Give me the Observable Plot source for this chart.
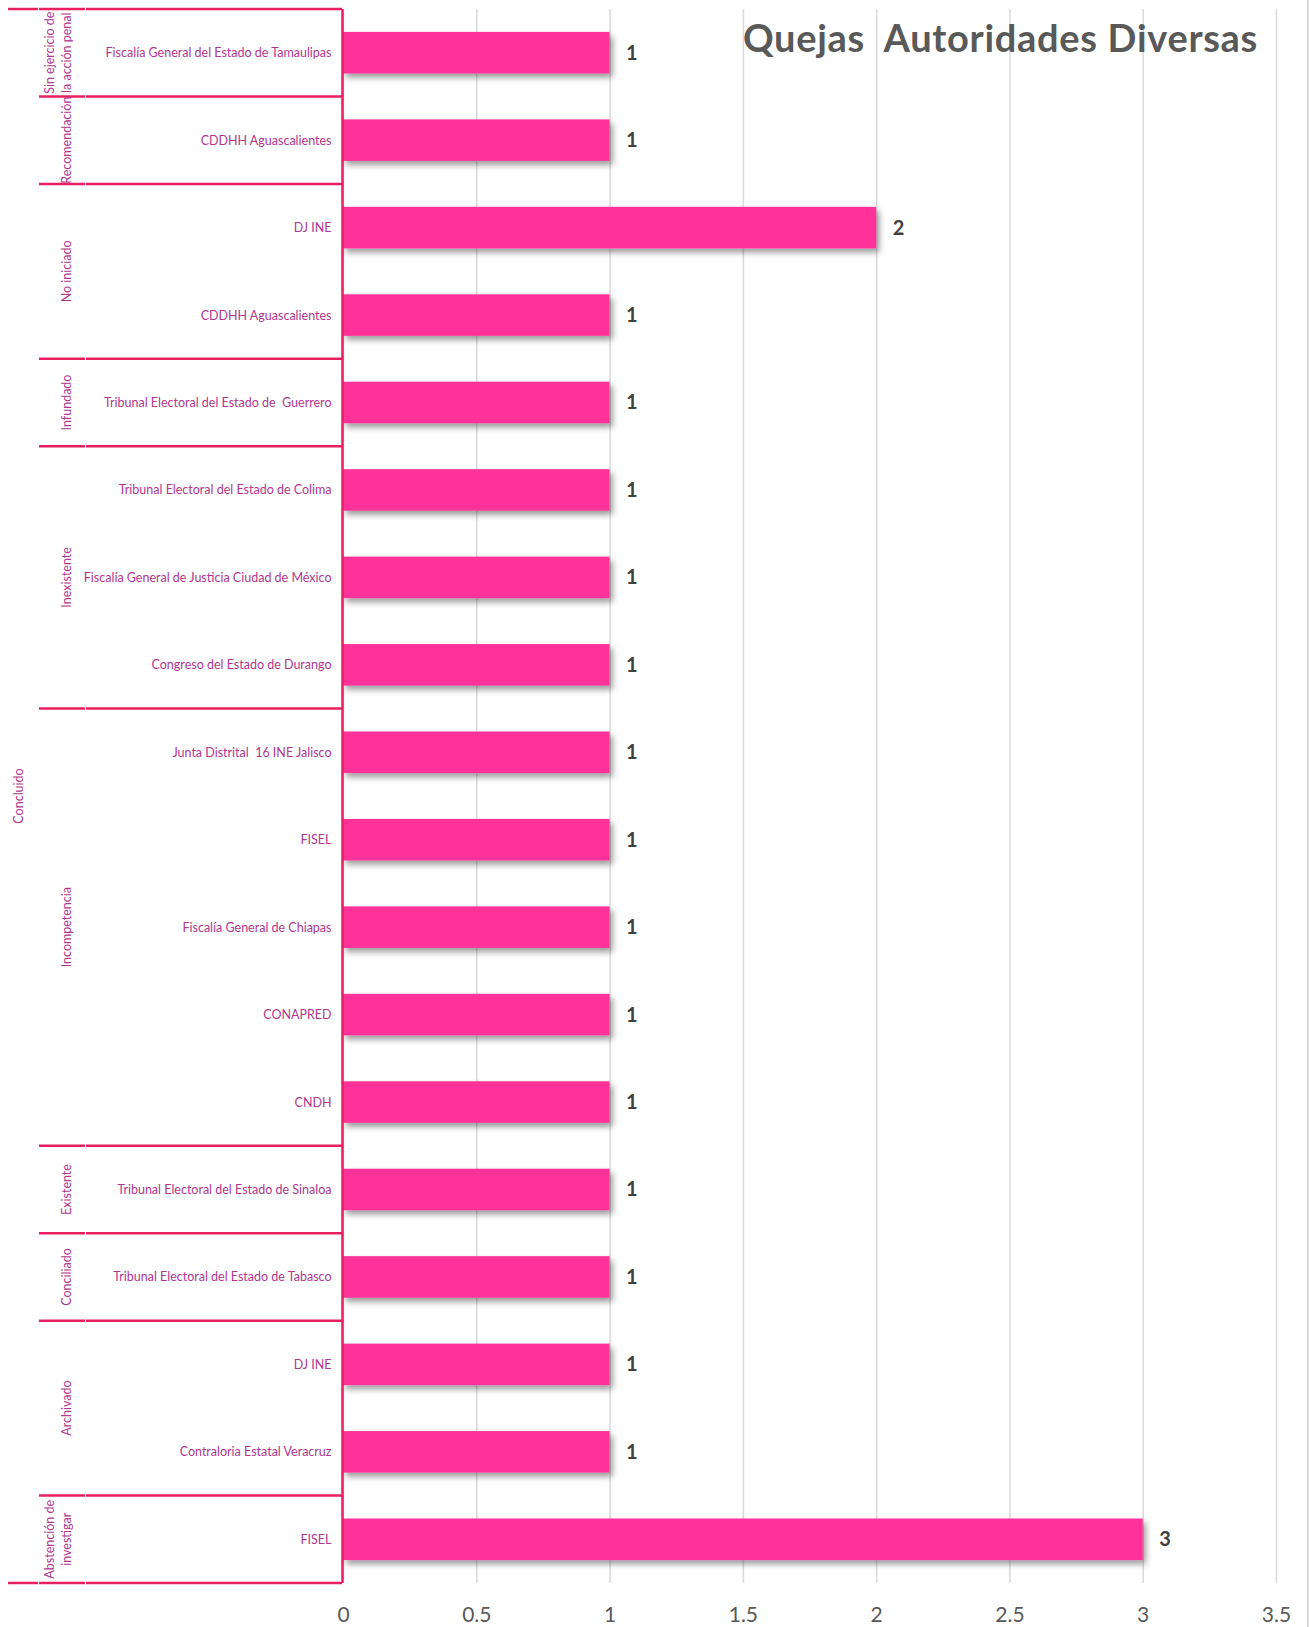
<!DOCTYPE html>
<html><head><meta charset="utf-8">
<script src="https://cdn.jsdelivr.net/npm/d3@7"></script>
<script src="https://cdn.jsdelivr.net/npm/@observablehq/plot@0.6"></script>
<style>
html,body{margin:0;padding:0;background:#fff;}
#wrap{position:relative;width:1309px;height:1627px;overflow:hidden;}
svg text{white-space:pre;}
</style></head><body>
<div id="wrap"></div>
<script>
const title = "Quejas  Autoridades Diversas";
const outerGroup = "Concluido";
const groups = ["Sin ejercicio de\nla acción penal", "Recomendación", "No iniciado", "Infundado", "Inexistente", "Incompetencia", "Existente", "Conciliado", "Archivado", "Abstención de\ninvestigar"];
const categories = [
  "Fiscalía General del Estado de Tamaulipas",
  "CDDHH Aguascalientes",
  "DJ INE",
  "CDDHH Aguascalientes",
  "Tribunal Electoral del Estado de  Guerrero",
  "Tribunal Electoral del Estado de Colima",
  "Fiscalía General de Justicia Ciudad de México",
  "Congreso del Estado de Durango",
  "Junta Distrital  16 INE Jalisco",
  "FISEL",
  "Fiscalía General de Chiapas",
  "CONAPRED",
  "CNDH",
  "Tribunal Electoral del Estado de Sinaloa",
  "Tribunal Electoral del Estado de Tabasco",
  "DJ INE",
  "Contraloria Estatal Veracruz",
  "FISEL"
];
const categoryGroup = [0,1,2,2,3,4,4,4,5,5,5,5,5,6,7,8,8,9];
const values = [1,1,2,1,1,1,1,1,1,1,1,1,1,1,1,1,1,3];
const ticks = [0,0.5,1,1.5,2,2.5,3,3.5];

const rows = categories.map((c,i)=>({id:String(i), label:c, value:values[i], group:categoryGroup[i]}));

const FONT = "Lato, sans-serif";
const LINE = "#E8205F";
const LABEL = "#B0378F";

const chart = Plot.plot({
  width:1309, height:1627,
  marginTop:9, marginBottom:44, marginLeft:343, marginRight:33,
  style:{fontFamily:FONT, fontSize:"21px", color:"#595959", background:"transparent"},
  x:{domain:[0,3.5], ticks, tickSize:0, tickPadding:24, tickFormat:d=>String(d), label:null},
  y:{domain:rows.map(d=>d.id), paddingInner:0.525, paddingOuter:0.2625, round:false, axis:null},
  marks:[
    Plot.ruleX(ticks,{stroke:"#d9d9d9", strokeWidth:1.5}),
    Plot.barX(rows,{x:"value", y:"id", fill:"#FF3399"}),
    Plot.ruleX([0],{stroke:LINE, strokeWidth:2.5, dx:-1}),
    Plot.text(rows,{x:0, y:"id", text:"label", textAnchor:"end", dx:-12, fill:LABEL, fontSize:12.5}),
    Plot.text(rows,{x:"value", y:"id", text:d=>String(d.value), textAnchor:"start", dx:16, fill:"#404040", fontSize:20, fontWeight:"bold"})
  ]
});
document.getElementById("wrap").appendChild(chart);

const svg = d3.select(chart);
// drop shadow for bars
const defs = svg.insert("defs", ":first-child");
const f = defs.append("filter").attr("id","shadow").attr("x","-5%").attr("y","-20%").attr("width","115%").attr("height","160%");
f.append("feDropShadow").attr("dx",3).attr("dy",4).attr("stdDeviation",3).attr("flood-color","#000").attr("flood-opacity",0.4);
svg.selectAll('g[aria-label="bar"]').attr("filter","url(#shadow)");

// hierarchical category frame using Plot's y scale
const ys = chart.scale("y");
const xs = chart.scale("x");
const step = ys.apply("1") - ys.apply("0");
const bw = ys.bandwidth;
const rowTop = i => ys.apply(String(i)) - (step - bw)/2;
const x0 = xs.apply(0) - 1;
const g = svg.append("g").attr("aria-label","category frame");
const topY = rowTop(0), botY = rowTop(rows.length - 1) + step;

function hline(y, segs){
  segs.forEach(([a,b]) => g.append("line").attr("x1",a).attr("x2",b).attr("y1",y).attr("y2",y)
    .attr("stroke",LINE).attr("stroke-width",2.5));
}
hline(topY, [[8,38],[39,85],[86,x0]]);
hline(botY, [[8,38],[39,85],[86,x0]]);

// group boundaries & labels
const groupStarts = [];
categoryGroup.forEach((gi,i)=>{ if(i===0 || categoryGroup[i-1]!==gi) groupStarts.push(i); });
groupStarts.forEach((s,k)=>{
  if(k>0) hline(rowTop(s), [[39,85],[86,x0]]);
  const e = (k+1<groupStarts.length ? groupStarts[k+1] : rows.length);
  const cy = (rowTop(s) + rowTop(e-1) + step)/2;
  const lines = groups[categoryGroup[s]].split("\n");
  const lh = 17;
  const cx = 66.5 - (lines.length-1)*lh;
  const t = g.append("text").attr("transform",`translate(${cx},${cy}) rotate(-90)`)
    .attr("text-anchor","middle").attr("fill",LABEL).attr("font-size",12.5).attr("font-family",FONT);
  lines.forEach((ln,j)=> t.append("tspan").attr("x",0).attr("y",j*lh).attr("dy","0.35em").text(ln));
});

// outer group label
g.append("text").attr("transform",`translate(18.5,${(topY+botY)/2}) rotate(-90)`)
  .attr("text-anchor","middle").attr("dy","0.35em").attr("fill",LABEL).attr("font-size",12.5).attr("font-family",FONT)
  .text(outerGroup);

// right border of chart area
svg.append("line").attr("x1",1308).attr("x2",1308).attr("y1",0).attr("y2",1627)
  .attr("stroke","#d9d9d9").attr("stroke-width",2);

// title
svg.append("text").attr("x",1258).attr("y",52).attr("text-anchor","end")
  .attr("fill","#595959").attr("font-size",38).attr("font-weight","bold").attr("font-family",FONT)
  .attr("letter-spacing","0.7px")
  .text(title);
</script>
</body></html>
